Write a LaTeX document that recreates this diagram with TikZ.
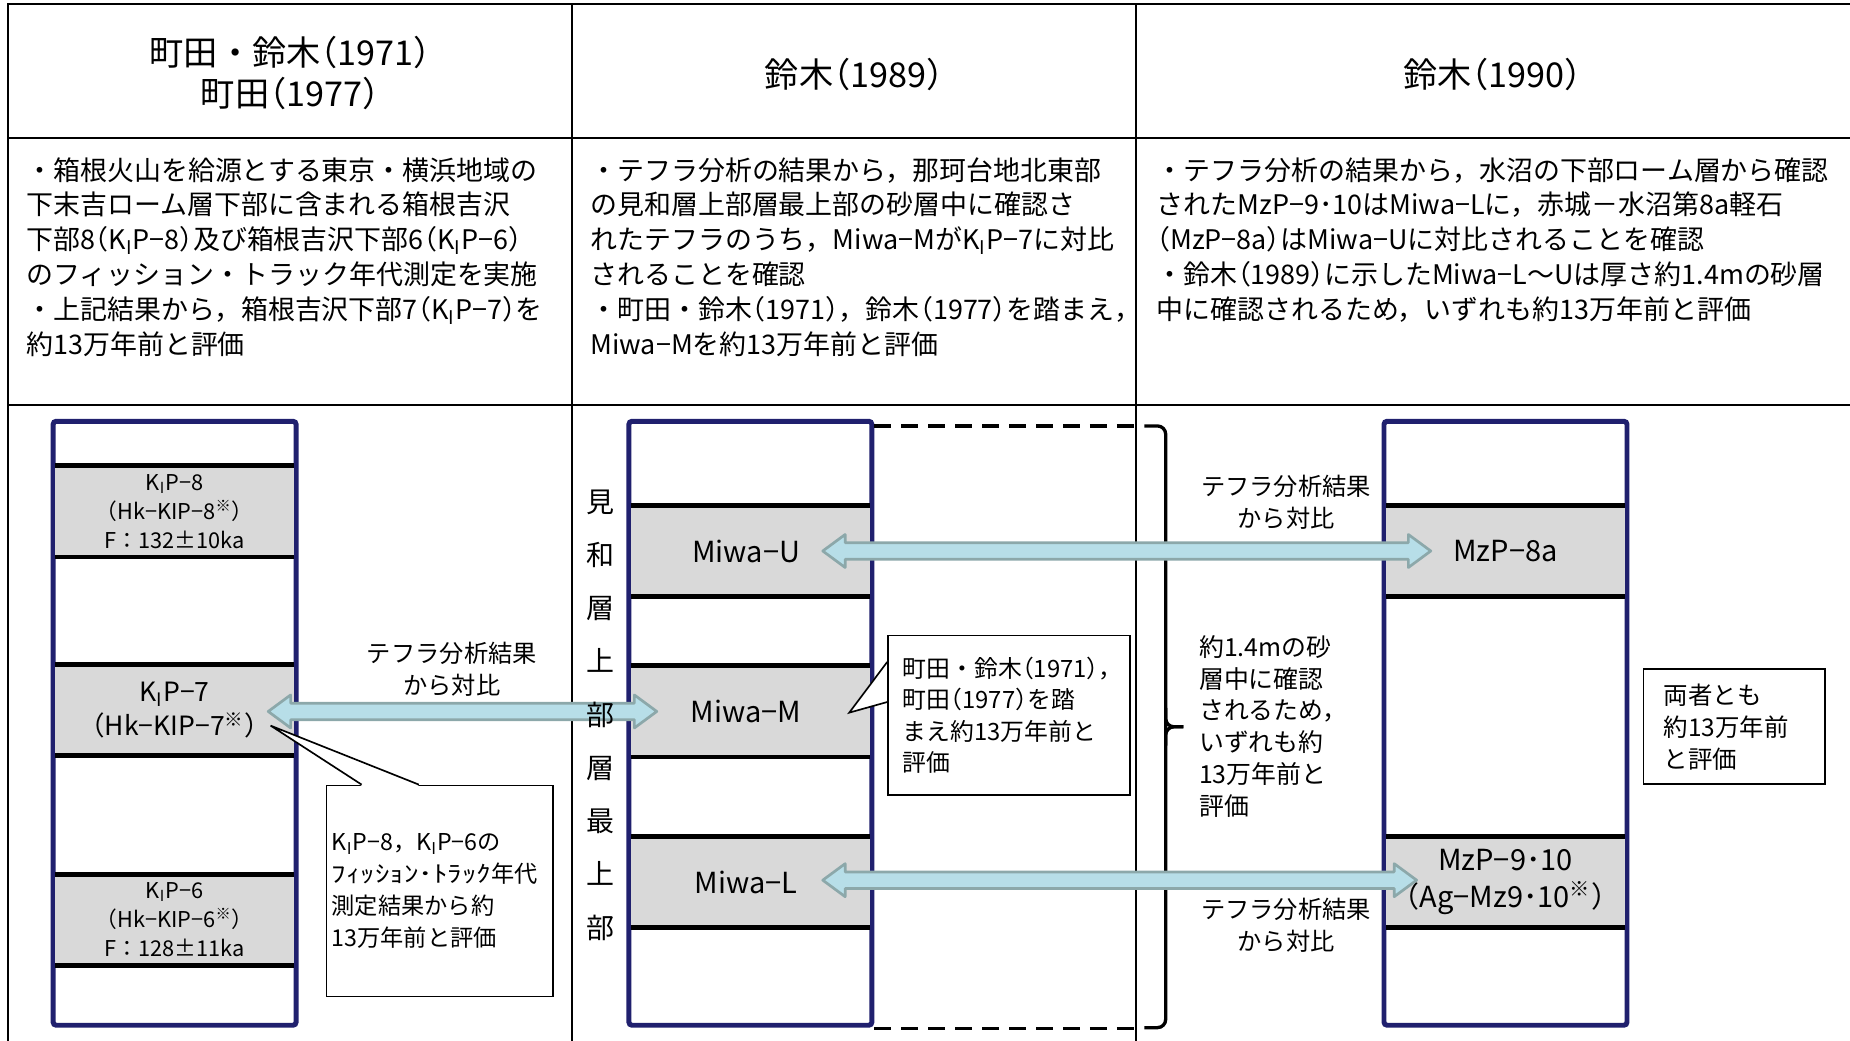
\documentclass[tikz,border=0pt]{standalone}
\usepackage{fontspec}
\setmainfont{Noto Sans CJK JP}
\newfontfamily\haltfont[RawFeature=+halt]{Noto Sans CJK JP}
\usepackage{tikz}
\usetikzlibrary{calc,positioning}
\definecolor{navyline}{RGB}{32,32,110}
\definecolor{bedgray}{RGB}{217,217,217}
\definecolor{tephrafill}{RGB}{183,222,232}
\definecolor{tephraline}{RGB}{140,168,170}
\newcommand{\hwp}[1]{{\haltfont #1}}
\tikzstyle{rule} = [line width=1pt]
\tikzstyle{headtext} = [font=\fontsize{16.5}{20}\selectfont, align=center]
\tikzstyle{desctext} = [font=\fontsize{13}{16.8}\selectfont, align=left, anchor=north west, inner sep=0pt]
\tikzstyle{stratcol} = [rectangle, draw=navyline, line width=2.4pt, rounded corners=1.5pt, fill=white, minimum width=4.12cm, minimum height=10.24cm, inner sep=0pt]
\tikzstyle{bed} = [rectangle, fill=bedgray, minimum width=4.04cm, minimum height=1.53cm, inner sep=0pt, align=center, font=\fontsize{14}{18}\selectfont]
\tikzstyle{bedline} = [line width=2.4pt]
\tikzstyle{tephra} = [draw=tephraline, fill=tephrafill, line width=1.3pt, line join=round]
\tikzstyle{cmptext} = [font=\fontsize{11.7}{15.3}\selectfont, align=center]
\tikzstyle{note} = [rectangle, draw=black, fill=white, line width=0.8pt, align=left, inner ysep=0pt]
\tikzstyle{notepointer} = [line width=0.8pt, line join=miter]
\tikzstyle{sandline} = [line width=1.6pt, dash pattern=on 8pt off 5pt]
\tikzstyle{sandbrace} = [line width=1.6pt, rounded corners=4pt]
% double headed block arrow between two named points
\newcommand{\dblarrow}[2]{%
  \draw[tephra] (#1) -- ($(#1)+(19,-14)$) -- ($(#1)+(19,-7)$) -- ($(#2)+(-19,-7)$)
    -- ($(#2)+(-19,-14)$) -- (#2) -- ($(#2)+(-19,14)$) -- ($(#2)+(-19,7)$)
    -- ($(#1)+(19,7)$) -- ($(#1)+(19,14)$) -- cycle;}

\begin{document}
\begin{tikzpicture}[x=0.02cm, y=-0.02cm]
\useasboundingbox (0,0) rectangle (1568,882);

% table
\draw[rule] (7,882) -- (7,3) -- (1568,3);
\draw[rule] (7,117) -- (1568,117);
\draw[rule] (7,343) -- (1568,343);
\draw[rule] (485,3) -- (485,882);
\draw[rule] (963,3) -- (963,882);

\node[headtext] (hdmachida) at (246,62) {町田・鈴木\hwp{（}1971\hwp{）}\\町田\hwp{（}1977\hwp{）}};
\node[headtext] (hdsuzukia) at (724,63) {鈴木\hwp{（}1989\hwp{）}};
\node[headtext] (hdsuzukib) at (1265,63) {鈴木\hwp{（}1990\hwp{）}};

\node[desctext] (dsmachida) at (22,133) {・箱根火山を給源とする東京・横浜地域の\\下末吉ローム層下部に含まれる箱根吉沢\\下部8\hwp{（}K\textsubscript{I}P−8\hwp{）}及び箱根吉沢下部6\hwp{（}K\textsubscript{I}P−6\hwp{）}\\のフィッション・トラック年代測定を実施\\・上記結果から，箱根吉沢下部7\hwp{（}K\textsubscript{I}P−7\hwp{）}を\\約13万年前と評価};
\node[desctext] (dssuzukia) at (500,133) {・テフラ分析の結果から，那珂台地北東部\\の見和層上部層最上部の砂層中に確認さ\\れたテフラのうち，Miwa−MがK\textsubscript{I}P−7に対比\\されることを確認\\・町田・鈴木\hwp{（}1971\hwp{）}，鈴木\hwp{（}1977\hwp{）}を踏まえ，\\Miwa−Mを約13万年前と評価};
\node[desctext] (dssuzukib) at (980,133) {・テフラ分析の結果から，水沼の下部ローム層から確認\\されたMzP−9･10はMiwa−Lに，赤城－水沼第8a軽石\\\hwp{（}MzP−8a\hwp{）}はMiwa−Uに対比されることを確認\\・鈴木\hwp{（}1989\hwp{）}に示したMiwa−L～Uは厚さ約1.4mの砂層\\中に確認されるため，いずれも約13万年前と評価};

% Hakone column
\node[stratcol] (colA) at (148,613) {};
\node[bed, font=\fontsize{10.5}{14.1}\selectfont] (kip8) at (148,433.5) {K\textsubscript{I}P−8\\（Hk−KIP−8\textsuperscript{※}）\\F：132±10ka};
\node[bed, font=\fontsize{12.8}{16.5}\selectfont] (kip7) at (148,602) {K\textsubscript{I}P−7\\（Hk−KIP−7\textsuperscript{※}）};
\node[bed, font=\fontsize{10.5}{14.1}\selectfont] (kip6) at (148,779.5) {K\textsubscript{I}P−6\\（Hk−KIP−6\textsuperscript{※}）\\F：128±11ka};

% Miwa column
\node[stratcol] (colB) at (636,613) {};
\node[bed] (miwau) at (636,467) {Miwa−U\hspace{4pt}};
\node[bed] (miwam) at (636,603) {Miwa−M\hspace{4pt}};
\node[bed] (miwal) at (636,747.5) {Miwa−L\hspace{4pt}};

% Mizunuma column
\node[stratcol] (colC) at (1276,613) {};
\node[bed] (mzpa) at (1276,467) {MzP−8a};
\node[bed] (mzpb) at (1276,747.5) {MzP−9･10\\（Ag−Mz9･10\textsuperscript{※}）};

\foreach \b in {kip8,kip7,kip6,miwau,miwam,miwal,mzpa,mzpb}
  \draw[bedline] (\b.north west) -- (\b.north east) (\b.south west) -- (\b.south east);

% sand layer and brace
\coordinate (sandtop) at (966,361);
\coordinate (sandbot) at (966,872);
\draw[sandline] (colB.east |- sandtop) -- (sandtop);
\draw[sandline] (colB.east |- sandbot) -- (sandbot);
\draw[sandbrace] (970,361) -- (988,361) -- (988,871) -- (970,871);
\draw[sandbrace] (988,600) |- (1003,616);
\draw[sandbrace] (988,632) |- (1003,616);
\node[font=\fontsize{12}{15.4}\selectfont, align=left, anchor=north west, inner sep=0pt] (sandnote) at (1016,538) {約1.4mの砂\\層中に確認\\されるため，\\いずれも約\\13万年前と\\評価};

% correlations
\coordinate (kip7tip) at ($(kip7.east)+(-22,1)$);
\coordinate (miwamtip) at ($(miwam.west)+(22,0)$);
\coordinate (miwautip) at ($(miwau.east)+(-40,0)$);
\coordinate (mzpatip) at ($(mzpa.west)+(38,0)$);
\coordinate (miwaltip) at ($(miwal.east)+(-40,-1.5)$);
\coordinate (mzpbtip) at ($(mzpb.west)+(26,-1.5)$);
\dblarrow{kip7tip}{miwamtip}
\dblarrow{miwautip}{mzpatip}
\dblarrow{miwaltip}{mzpbtip}
\node[cmptext] (cmpkip) at (383,567) {テフラ分析結果\\から対比};
\node[cmptext] (cmpupper) at (1090,426) {テフラ分析結果\\から対比};
\node[cmptext] (cmplower) at (1090,784) {テフラ分析結果\\から対比};
\node[font=\fontsize{13.5}{25.7}\selectfont, align=center] (miwaname) at (509,606) {見\\和\\層\\上\\部\\層\\最\\上\\部};

% callouts
\node[note, anchor=north west, minimum width=3.84cm, minimum height=3.58cm, text width=3.66cm, inner xsep=0.09cm, font=\fontsize{11.2}{15.4}\selectfont] (notekip) at (276,665) {K\textsubscript{I}P−8，K\textsubscript{I}P−6の\\\scalebox{1.25}[1]{ﾌｨｯｼｮﾝ･ﾄﾗｯｸ}年代\\測定結果から約\\13万年前と評価};
\coordinate (kip7ref) at ($(kip7.east)+(-20,13)$);
\fill[white] ($(notekip.north west)+(30.5,1)$) -- (kip7ref) -- ($(notekip.north west)+(79,1)$) -- cycle;
\draw[notepointer] ($(notekip.north west)+(30.5,0)$) -- (kip7ref) -- ($(notekip.north west)+(79,0)$);

\node[note, anchor=north west, minimum width=4.1cm, minimum height=2.7cm, text width=3.6cm, inner xsep=0.25cm, font=\fontsize{11.5}{15}\selectfont] (notemiwa) at (752,538) {町田・鈴木\hwp{（}1971\hwp{），}\\町田\hwp{（}1977\hwp{）}を踏\\まえ約13万年前と\\評価};
\coordinate (miwamref) at ($(miwam.east)+(-17.5,1)$);
\fill[white] ($(notemiwa.north west)+(-1,23)$) -- (miwamref) -- ($(notemiwa.north west)+(-1,57)$) -- cycle;
\draw[notepointer] ($(notemiwa.north west)+(0,23)$) -- (miwamref) -- ($(notemiwa.north west)+(0,57)$);

\node[note, minimum width=3.08cm, minimum height=1.95cm, text width=2.4cm, inner xsep=0.34cm, font=\fontsize{11.8}{15.4}\selectfont] (notesum) at (1470,616) {両者とも\\約13万年前\\と評価};
\end{tikzpicture}
\end{document}
